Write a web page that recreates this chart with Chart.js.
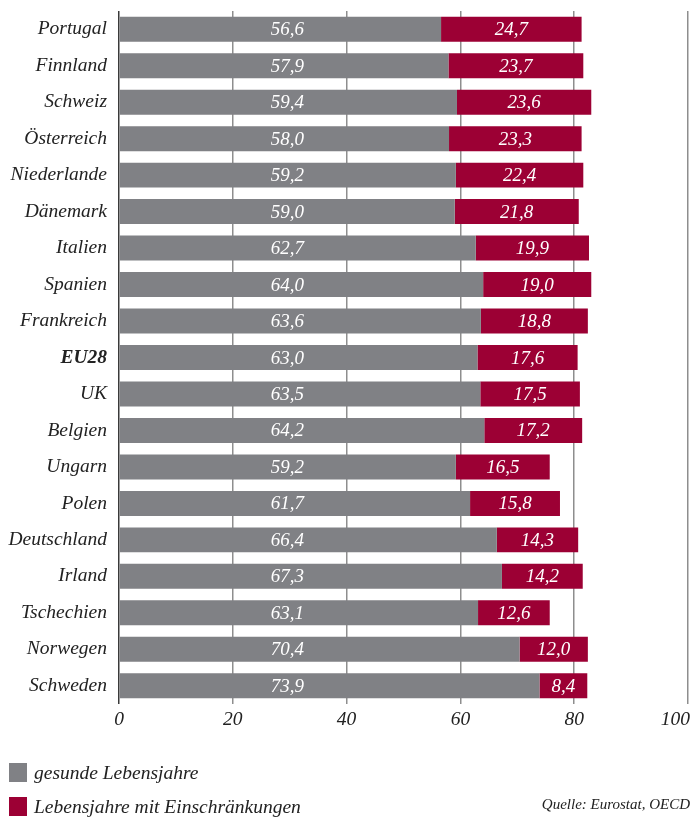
<!DOCTYPE html>
<html>
<head>
<meta charset="utf-8">
<script src="https://cdn.jsdelivr.net/npm/chart.js@4/dist/chart.umd.min.js"></script>
<style>
  html, body { margin: 0; padding: 0; background: #fff; }
  #wrap { position: relative; width: 691px; height: 820px; overflow: hidden; }
  canvas { position: absolute; left: 0; top: 0; }
  .lg { position: absolute; font-family: "Liberation Serif", "DejaVu Serif", serif; font-style: italic; font-size: 19.5px; color: #222; white-space: nowrap; }
  .sw { position: absolute; width: 18px; height: 19px; }
  #src { position: absolute; right: 1px; top: 796px; font-family: "Liberation Serif", serif; font-style: italic; font-size: 15px; color: #222; white-space: nowrap; }
</style>
</head>
<body>
<div id="wrap">
  <canvas id="c" width="691" height="820"></canvas>
  <div class="sw" style="left:9px;top:763px;background:#808185"></div>
  <div class="lg" style="left:34px;top:762px">gesunde Lebensjahre</div>
  <div class="sw" style="left:9px;top:797px;background:#9c0034"></div>
  <div class="lg" style="left:34px;top:796px">Lebensjahre mit Einschränkungen</div>
  <div id="src">Quelle: Eurostat, OECD</div>
</div>
<script>
const categories = ["Portugal","Finnland","Schweiz","Österreich","Niederlande","Dänemark","Italien","Spanien","Frankreich","EU28","UK","Belgien","Ungarn","Polen","Deutschland","Irland","Tschechien","Norwegen","Schweden"];
const gesundeLebensjahre = [56.6,57.9,59.4,58.0,59.2,59.0,62.7,64.0,63.6,63.0,63.5,64.2,59.2,61.7,66.4,67.3,63.1,70.4,73.9];
const lebensjahreMitEinschraenkungen = [24.7,23.7,23.6,23.3,22.4,21.8,19.9,19.0,18.8,17.6,17.5,17.2,16.5,15.8,14.3,14.2,12.6,12.0,8.4];
const xTicks = [0,20,40,60,80,100];
const seriesNames = ["gesunde Lebensjahre","Lebensjahre mit Einschränkungen"];

const SERIF = '"Liberation Serif", "DejaVu Serif", serif';

const valueLabels = {
  id: 'valueLabels',
  afterDatasetsDraw(chart) {
    const ctx = chart.ctx;
    const xs = chart.scales.x;
    ctx.save();
    ctx.fillStyle = '#ffffff';
    ctx.font = 'italic 19px ' + SERIF;
    ctx.textAlign = 'center';
    ctx.textBaseline = 'middle';
    chart.data.datasets.forEach((ds, di) => {
      const meta = chart.getDatasetMeta(di);
      meta.data.forEach((el, i) => {
        const v = ds.data[i];
        const txt = v.toFixed(1).replace('.', ',');
        const x = di === 0 ? xs.getPixelForValue(29.6) : (el.x + el.base) / 2;
        ctx.fillText(txt, x, el.y + 1);
      });
    });
    ctx.restore();
  },
  afterDraw(chart) {
    const ctx = chart.ctx;
    const xs = chart.scales.x;
    ctx.save();
    ctx.fillStyle = '#222';
    ctx.font = 'italic 19.5px ' + SERIF;
    ctx.textBaseline = 'top';
    ctx.textAlign = 'center';
    xs.ticks.forEach((t) => {
      const txt = String(t.value);
      const w = ctx.measureText(txt).width;
      let x = xs.getPixelForValue(t.value);
      if (x + w / 2 > chart.width - 1) x = chart.width - 1 - w / 2;
      ctx.fillText(txt, x, chart.chartArea.bottom + 6);
    });
    ctx.restore();
  }
};

new Chart(document.getElementById('c'), {
  type: 'bar',
  data: {
    labels: categories,
    datasets: [
      { label: seriesNames[0], data: gesundeLebensjahre, backgroundColor: '#808185', borderWidth: 0, barPercentage: 0.685, categoryPercentage: 1 },
      { label: seriesNames[1], data: lebensjahreMitEinschraenkungen, backgroundColor: '#9c0034', borderWidth: 0, barPercentage: 0.685, categoryPercentage: 1 }
    ]
  },
  options: {
    indexAxis: 'y',
    responsive: false,
    animation: false,
    layout: { padding: { top: 11, left: 0, right: 3, bottom: 86 } },
    plugins: { legend: { display: false }, tooltip: { enabled: false } },
    scales: {
      x: {
        stacked: true,
        min: 0, max: 100,
        afterBuildTicks(scale) { scale.ticks = xTicks.map(v => ({ value: v })); },
        afterFit(scale) { scale.height = 30; scale.paddingLeft = 0; scale.paddingRight = 0; },
        border: { display: false },
        grid: {
          drawTicks: false,
          color: (c) => (c.tick && c.tick.value === 0) ? '#3a3a3a' : '#8e8e8e',
          lineWidth: 1.5
        },
        ticks: {
          padding: 6,
          color: 'rgba(0,0,0,0)',
          font: { family: SERIF, size: 19, style: 'italic' },
          callback: (v) => String(v)
        }
      },
      y: {
        stacked: true,
        afterFit(scale) { scale.width = 119; scale.paddingTop = 0; scale.paddingBottom = 0; },
        border: { display: false },
        grid: { display: false, drawTicks: false },
        ticks: {
          padding: 12,
          color: '#222',
          font: (c) => {
            const lbl = categories[c.index];
            return { family: SERIF, size: 19.5, style: 'italic', weight: lbl === 'EU28' ? 'bold' : 'normal' };
          }
        }
      }
    }
  },
  plugins: [valueLabels]
});
</script>
</body>
</html>
